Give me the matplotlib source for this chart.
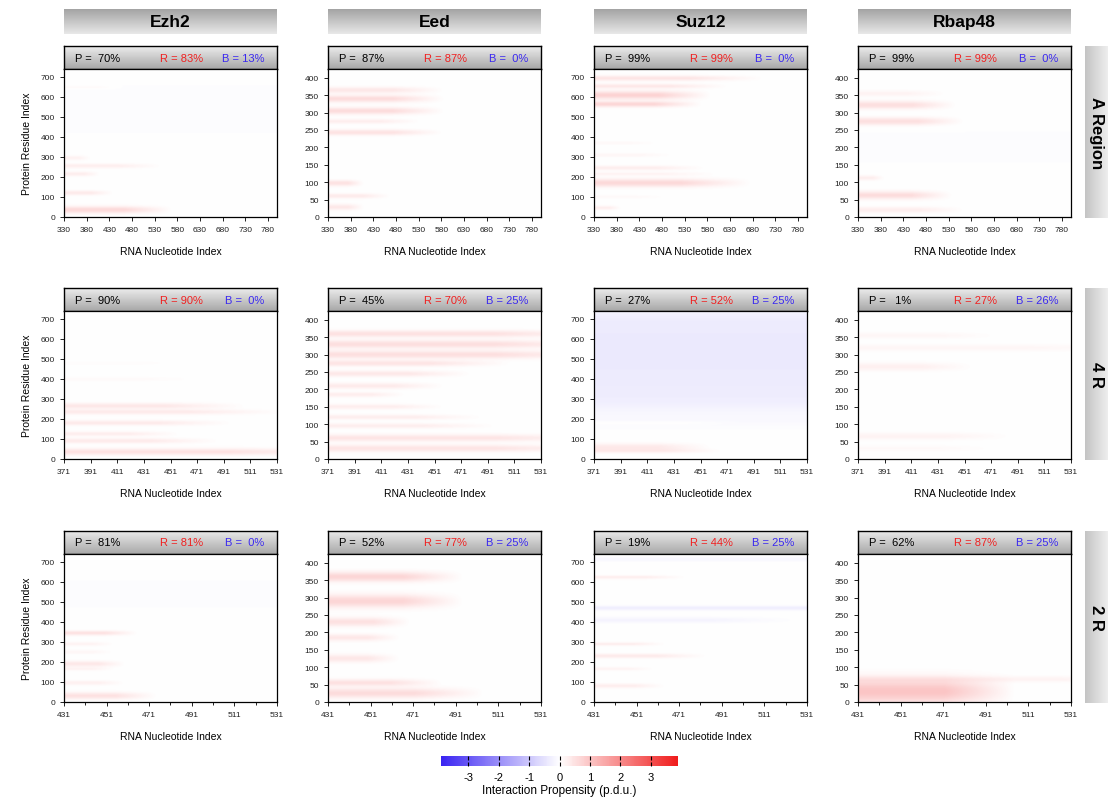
import numpy as np
import matplotlib
matplotlib.use("Agg")
import matplotlib.pyplot as plt
from matplotlib.colors import LinearSegmentedColormap, Normalize
from matplotlib.cm import ScalarMappable

plt.rcParams['font.family'] = ['Liberation Sans', 'DejaVu Sans']
plt.rcParams['axes.unicode_minus'] = False

# ---- data -------------------------------------------------------------
proteins = ["Ezh2", "Eed", "Suz12", "Rbap48"]
regions = ["A Region", "4 R", "2 R"]

# x ranges (RNA nucleotide index) and ticks per row
row_xlim = [(330, 800), (371, 531), (431, 531)]
row_xticks = [list(range(330, 781, 50)), list(range(371, 532, 20)), list(range(431, 532, 20))]

# y ranges (protein residue index) and tick step per column
col_ylim = [(0, 740), (0, 425), (0, 740), (0, 425)]
col_ystep = [100, 50, 100, 50]

p_vals = [[70, 87, 99, 99], [90, 45, 27, 1], [81, 52, 19, 62]]
r_vals = [[83, 87, 99, 99], [90, 70, 52, 27], [81, 77, 44, 87]]
b_vals = [[13, 0, 0, 0], [0, 25, 25, 26], [0, 25, 25, 25]]

# bands: (residue centre, half width, nucleotide where it fades out, propensity)
FULL = 5000  # band runs across the whole panel
ezh2_a = [(35, 12, 570, 0.65), (120, 8, 440, 0.35), (215, 8, 410, 0.3), (255, 8, 550, 0.28),
          (295, 8, 390, 0.22), (650, 6, 460, 0.12), (600, 60, FULL, -0.05), (470, 50, FULL, -0.05)]
eed_a = [(365, 6, 590, 0.4), (340, 7, 590, 0.6), (305, 7, 590, 0.6), (275, 5, 540, 0.3),
         (243, 6, 590, 0.5), (97, 6, 410, 0.5), (60, 5, 470, 0.35), (28, 6, 410, 0.4),
         (180, 60, FULL, -0.03)]
suz12_a = [(695, 9, 710, 0.45), (655, 8, 630, 0.4), (610, 14, 590, 0.75), (565, 10, 570, 0.7),
           (370, 6, 480, 0.1), (310, 7, 510, 0.15), (245, 8, 580, 0.3), (215, 7, 610, 0.2),
           (170, 14, 680, 0.65), (100, 6, 500, 0.1), (45, 7, 390, 0.3)]
rbap48_a = [(355, 6, 530, 0.2), (322, 8, 550, 0.55), (275, 8, 570, 0.55), (112, 5, 390, 0.3),
            (62, 8, 540, 0.6), (20, 6, 570, 0.3), (200, 60, FULL, -0.04)]

ezh2_4r = [(265, 10, 510, 0.4), (235, 9, 540, 0.35), (180, 9, 500, 0.35), (125, 8, 460, 0.3),
           (90, 9, 490, 0.35), (35, 12, 600, 0.5), (400, 8, 480, 0.08), (480, 8, 470, 0.05)]
eed_4r = [(360, 7, 600, 0.5), (330, 8, 600, 0.55), (300, 8, 600, 0.55), (275, 6, 510, 0.45),
          (245, 6, 480, 0.4), (210, 6, 460, 0.35), (185, 5, 430, 0.3), (150, 5, 460, 0.3),
          (120, 5, 490, 0.3), (95, 5, 500, 0.3), (60, 7, 600, 0.45), (30, 7, 600, 0.45)]
suz12_4r = [(690, 50, FULL, -0.3), (590, 50, FULL, -0.3), (490, 50, FULL, -0.3),
            (390, 50, FULL, -0.3), (290, 45, FULL, -0.25), (190, 30, FULL, -0.08),
            (60, 12, 460, 0.35), (40, 8, 470, 0.3), (180, 6, 480, 0.1)]
rbap48_4r = [(355, 6, 480, 0.15), (320, 7, 600, 0.15), (265, 8, 460, 0.25),
             (65, 7, 490, 0.2), (30, 6, 480, 0.1)]

ezh2_2r = [(345, 8, 466, 0.5), (290, 7, 455, 0.2), (250, 7, 455, 0.15), (190, 10, 460, 0.4),
           (165, 6, 455, 0.2), (95, 8, 460, 0.25), (30, 12, 475, 0.5), (540, 70, FULL, -0.05)]
eed_2r = [(360, 10, 495, 0.7), (290, 13, 495, 0.7), (230, 9, 470, 0.5), (185, 7, 465, 0.4),
          (125, 8, 465, 0.4), (55, 7, 485, 0.5), (25, 10, 505, 0.6)]
suz12_2r = [(625, 6, 475, 0.3), (290, 6, 465, 0.3), (230, 8, 485, 0.35), (165, 6, 460, 0.2),
            (80, 8, 465, 0.3)]
suz12_2r_blue = [(470, 8, FULL, -0.3), (410, 10, 530, -0.2), (715, 8, FULL, -0.15)]
rbap48_2r = [(30, 25, 505, 1.0), (65, 6, 600, 0.2)]

panel_bands = [[ezh2_a, eed_a, suz12_a, rbap48_a],
               [ezh2_4r, eed_4r, suz12_4r, rbap48_4r],
               [ezh2_2r, eed_2r, suz12_2r + suz12_2r_blue, rbap48_2r]]

# ---- helpers ----------------------------------------------------------
VMAX = 3.9
WIDEN = 1.4
cmap = LinearSegmentedColormap.from_list("prop", ["#3a24f2", "#ffffff", "#f01c1c"])


def band_image(bands, xlim, ylim, nx=240, ny=320):
    x = np.linspace(xlim[0], xlim[1], nx)
    y = np.linspace(ylim[0], ylim[1], ny)
    X, Y = np.meshgrid(x, y)
    Z = np.zeros_like(X)
    for yc, w, xend, v in bands:
        span = min(xend, xlim[1] * 2) - xlim[0]
        fade = np.clip((xend - X) / (0.45 * span), 0, 1)
        Z += v * np.exp(-((Y - yc) / (w * WIDEN)) ** 2) * fade
    return Z


def gradient_box(fig, rect, c_top, c_bottom, horizontal=False):
    ax = fig.add_axes(rect)
    g = np.linspace(0, 1, 64)
    g = g[None, :] if horizontal else g[:, None]
    cm = LinearSegmentedColormap.from_list("g", [c_top, c_bottom])
    ax.imshow(g, cmap=cm, aspect="auto", extent=[0, 1, 0, 1], origin="upper")
    ax.set_xticks([])
    ax.set_yticks([])
    for s in ax.spines.values():
        s.set_visible(False)
    return ax


W, H = 1108, 803
fig = plt.figure(figsize=(W / 100, H / 100), dpi=100)


def px(x0, y0, w, h):
    return [x0 / W, 1 - (y0 + h) / H, w / W, h / H]


col_left = [64, 328, 594, 858]
col_w = 213
strip_top = [47, 289, 532]
strip_h = 23
plot_h = 148

# column headers
for c, name in enumerate(proteins):
    hx = gradient_box(fig, px(col_left[c], 10, col_w, 25), "#a4a4a4", "#e8e8e8")
    hx.text(0.5, 0.5, name, ha="center", va="center", fontsize=12.5, fontweight="bold",
            transform=hx.transAxes)

# row labels on the right
for r, name in enumerate(regions):
    rx = gradient_box(fig, px(1085, strip_top[r], 23, strip_h + plot_h + 1), "#c4c4c4", "#eeeeee",
                      horizontal=True)
    rx.text(0.5, 0.5, name, ha="center", va="center", fontsize=12, fontweight="bold",
            rotation=-90, transform=rx.transAxes)

for r in range(3):
    for c in range(4):
        x0 = col_left[c]
        # strip with P / R / B
        sx = gradient_box(fig, px(x0, strip_top[r], col_w, strip_h), "#ececec", "#a8a8a8")
        for s in sx.spines.values():
            s.set_visible(True)
            s.set_linewidth(1.0)
        sx.text(0.05, 0.5, f"P = {p_vals[r][c]:>3d}%", ha="left", va="center", fontsize=8,
                color="black", transform=sx.transAxes)
        sx.text(0.55, 0.5, f"R = {r_vals[r][c]}%", ha="center", va="center", fontsize=8,
                color="#f02020", transform=sx.transAxes)
        sx.text(0.94, 0.5, f"B = {b_vals[r][c]:>2d}%", ha="right", va="center", fontsize=8,
                color="#3a28f0", transform=sx.transAxes)

        ax = fig.add_axes(px(x0, strip_top[r] + strip_h, col_w, plot_h))
        xlim = row_xlim[r]
        ylim = col_ylim[c]
        Z = band_image(panel_bands[r][c], xlim, ylim)
        ax.imshow(Z, cmap=cmap, vmin=-VMAX, vmax=VMAX, aspect="auto", origin="lower",
                  extent=[xlim[0], xlim[1], ylim[0], ylim[1]], interpolation="bilinear")
        ax.set_xlim(*xlim)
        ax.set_ylim(*ylim)
        ax.set_xticks(row_xticks[r])
        if r == 2:
            ax.set_xticks(list(range(441, 532, 20)), minor=True)
        ax.set_yticks(list(range(0, ylim[1] - 20, col_ystep[c])))
        ax.tick_params(labelsize=6, colors="#222222", length=3, width=0.7)
        ax.tick_params(which="minor", length=2, width=0.6)
        ax.set_xlabel("RNA Nucleotide Index", fontsize=7.5, labelpad=9)
        if c == 0:
            ax.set_ylabel("Protein Residue Index", fontsize=7.5, labelpad=6)
        for s in ax.spines.values():
            s.set_linewidth(0.9)

# colorbar
cax = fig.add_axes(px(441, 757, 237, 10))
sm = ScalarMappable(norm=Normalize(-VMAX, VMAX), cmap=cmap)
cb = fig.colorbar(sm, cax=cax, orientation="horizontal")
cb.outline.set_visible(False)
cb.set_ticks([-3, -2, -1, 0, 1, 2, 3])
cax.tick_params(labelsize=8, length=3, width=0.8, direction="in", top=True, pad=4)
cb.set_label("Interaction Propensity (p.d.u.)", fontsize=8.5, labelpad=2)

fig.savefig("out.png", dpi=100)
